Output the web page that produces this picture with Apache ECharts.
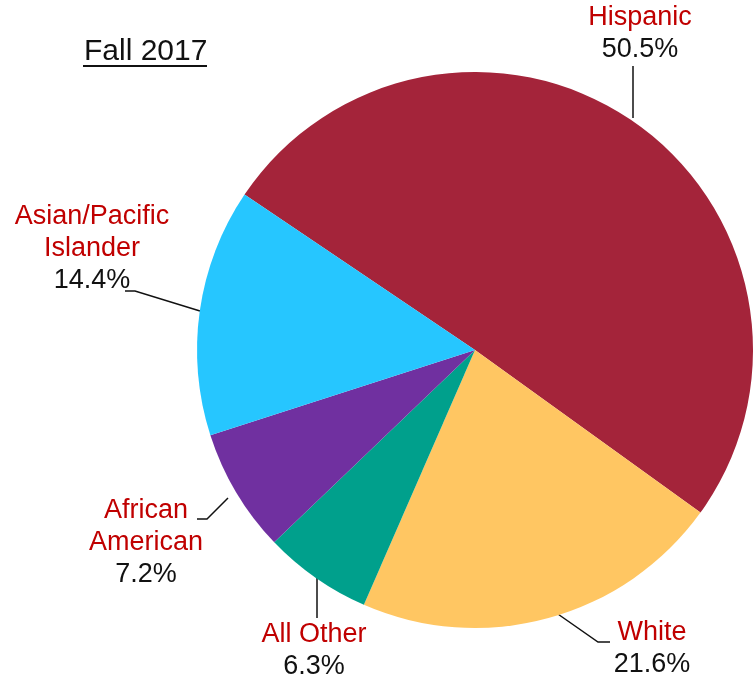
<!DOCTYPE html>
<html>
<head>
<meta charset="utf-8">
<script src="https://cdn.jsdelivr.net/npm/echarts@6/dist/echarts.min.js"></script>
<style>
  html, body { margin: 0; padding: 0; background: #fff; }
  #chart { width: 753px; height: 683px; }
</style>
</head>
<body>
<div id="chart"></div>
<script>
// 数据
var groups = ['Hispanic', 'White', 'All Other', 'African\nAmerican', 'Asian/Pacific\nIslander'];
var shares = [50.5, 21.6, 6.3, 7.2, 14.4];
var colors = ['#A4243A', '#FFC662', '#00A08C', '#7030A0', '#26C6FF'];

// 标签位置 (与数据顺序一致)
var labelPos = [[640, 34], [652, 649], [314, 651], [146, 543], [92, 249]];
var linePts = [
    [[633, 118], [633, 66], [633, 66]],
    [[555, 612], [598, 642], [610, 642]],
    [[317, 578], [317, 618], [317, 618]],
    [[228, 498], [207, 519], [197, 519]],
    [[200, 311], [135, 291], [125, 291]]
];

var pieData = [];
for (var i = 0; i < groups.length; i++) {
    pieData.push({ name: groups[i], value: shares[i], itemStyle: { color: colors[i] } });
}

var myChart = echarts.init(document.getElementById('chart'));
myChart.setOption({
    animation: false,
    graphic: [
        {
            type: 'text',
            x: 84,
            y: 52,
            style: {
                text: 'Fall 2017',
                font: '30px "Liberation Sans", Arial, sans-serif',
                fill: '#111',
                verticalAlign: 'middle'
            }
        },
        {
            type: 'rect',
            shape: { x: 83, y: 65, width: 124, height: 2 },
            style: { fill: '#111' }
        }
    ],
    series: [
        {
            type: 'pie',
            center: [475, 350],
            radius: 278,
            startAngle: 146,
            clockwise: true,
            data: pieData,
            label: {
                show: true,
                position: 'outside',
                align: 'center',
                overflow: 'none',
                formatter: function (p) {
                    return '{n|' + p.name.split('\n').join('}\n{n|') + '}\n{p|' + p.value.toFixed(1) + '%}';
                },
                rich: {
                    n: { fontSize: 27, lineHeight: 32, color: '#C00000', fontFamily: 'Liberation Sans', align: 'center' },
                    p: { fontSize: 27, lineHeight: 32, color: '#111', fontFamily: 'Liberation Sans', align: 'center' }
                }
            },
            labelLine: {
                show: true,
                lineStyle: { color: '#111', width: 1.5 }
            },
            labelLayout: function (params) {
                var k = params.dataIndex;
                return {
                    x: labelPos[k][0],
                    y: labelPos[k][1],
                    align: 'center',
                    verticalAlign: 'middle',
                    labelLinePoints: linePts[k]
                };
            }
        }
    ]
});
</script>
</body>
</html>
